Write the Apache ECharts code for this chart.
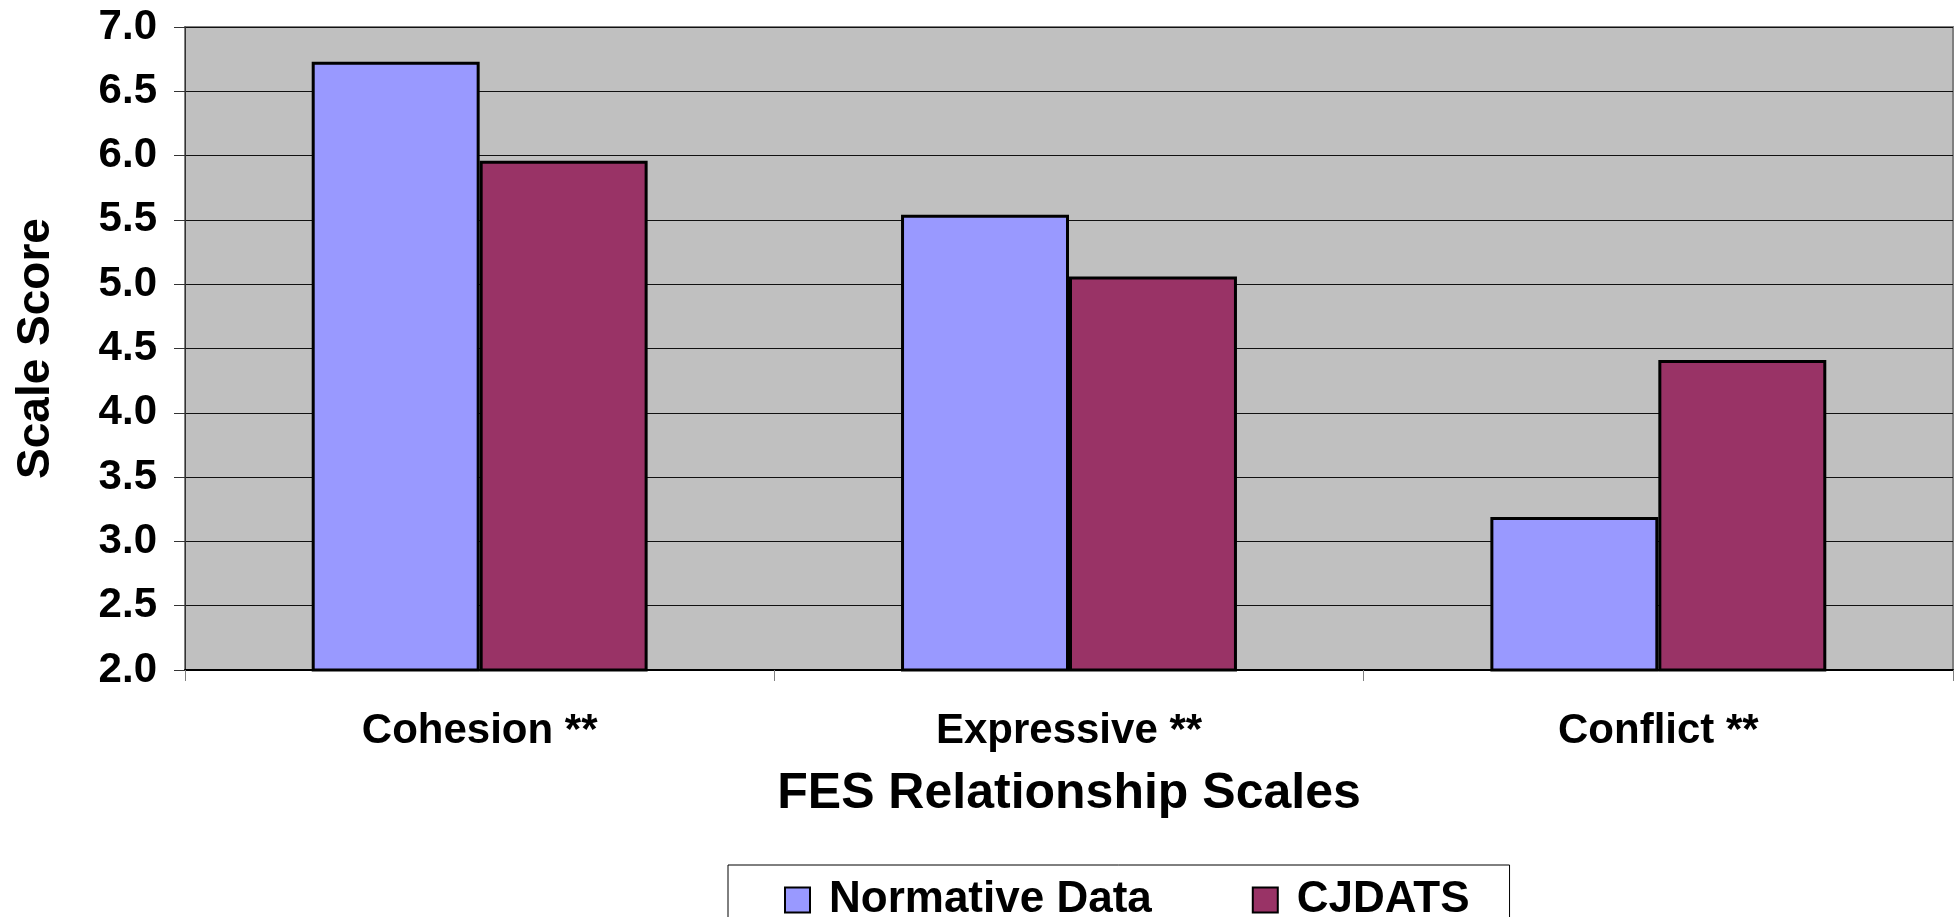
<!DOCTYPE html>
<html>
<head>
<meta charset="utf-8">
<script src="https://cdn.jsdelivr.net/npm/echarts@6/dist/echarts.min.js"></script>
<style>
  html, body { margin: 0; padding: 0; background: #ffffff; }
  #chart { width: 1954px; height: 917px; }
</style>
</head>
<body>
<div id="chart"></div>
<script>
// FES relationship scale scores: normative sample vs. CJDATS sample
const categories = ['Cohesion **', 'Expressive **', 'Conflict **'];
const normativeData = [6.73, 5.54, 3.19];
const cjdatsData = [5.96, 5.06, 4.41];
const seriesNames = ['Normative Data', 'CJDATS'];
const yMin = 2.0;
const yMax = 7.0;
const yStep = 0.5;

const FONT = '"Liberation Sans", Arial, Helvetica, sans-serif';

const chart = echarts.init(document.getElementById('chart'), null, { renderer: 'canvas' });

chart.setOption({
  animation: false,
  backgroundColor: '#ffffff',
  textStyle: { fontFamily: FONT },
  grid: {
    left: 185,
    top: 27,
    right: 1,
    bottom: 247,
    show: true,
    backgroundColor: '#C0C0C0',
    borderColor: '#808080',
    borderWidth: 2
  },
  legend: {
    data: seriesNames,
    left: 728,
    top: 865,
    orient: 'horizontal',
    icon: 'rect',
    itemWidth: 25,
    itemHeight: 25,
    itemGap: 100,
    padding: [13, 40, 60, 56],
    borderColor: '#000000',
    borderWidth: 1,
    backgroundColor: '#ffffff',
    textStyle: {
      fontFamily: FONT,
      fontSize: 44,
      fontWeight: 'bold',
      color: '#000000',
      padding: [0, 0, 0, 14]
    }
  },
  xAxis: {
    type: 'category',
    data: categories,
    name: 'FES Relationship Scales',
    nameLocation: 'middle',
    nameGap: 99,
    nameTextStyle: {
      fontFamily: FONT,
      fontSize: 50,
      fontWeight: 'bold',
      color: '#000000'
    },
    axisLine: { show: true, lineStyle: { color: '#000000', width: 2 } },
    axisTick: { show: true, length: 11, alignWithLabel: false, lineStyle: { color: '#808080', width: 1 } },
    axisLabel: {
      margin: 40,
      fontFamily: FONT,
      fontSize: 42,
      fontWeight: 'bold',
      color: '#000000'
    },
    splitLine: { show: false }
  },
  yAxis: {
    type: 'value',
    min: yMin,
    max: yMax,
    interval: yStep,
    name: 'Scale Score',
    nameLocation: 'middle',
    nameRotate: 90,
    nameGap: 126,
    nameTextStyle: {
      fontFamily: FONT,
      fontSize: 46,
      fontWeight: 'bold',
      color: '#000000'
    },
    axisLine: { show: true, lineStyle: { color: '#333333', width: 1 } },
    axisTick: { show: true, length: 11, lineStyle: { color: '#333333', width: 1 } },
    axisLabel: {
      margin: 28,
      fontFamily: FONT,
      fontSize: 42,
      fontWeight: 'bold',
      color: '#000000',
      formatter: v => v.toFixed(1)
    },
    splitLine: { show: true, lineStyle: { color: '#111111', width: 1 } }
  },
  series: [
    {
      name: seriesNames[0],
      type: 'bar',
      data: normativeData,
      barGap: '0%',
      barCategoryGap: '43%',
      itemStyle: { color: '#9999FF', borderColor: '#000000', borderWidth: 3 }
    },
    {
      name: seriesNames[1],
      type: 'bar',
      data: cjdatsData,
      barGap: '0%',
      barCategoryGap: '43%',
      itemStyle: { color: '#993366', borderColor: '#000000', borderWidth: 3 }
    }
  ]
});
</script>
</body>
</html>
